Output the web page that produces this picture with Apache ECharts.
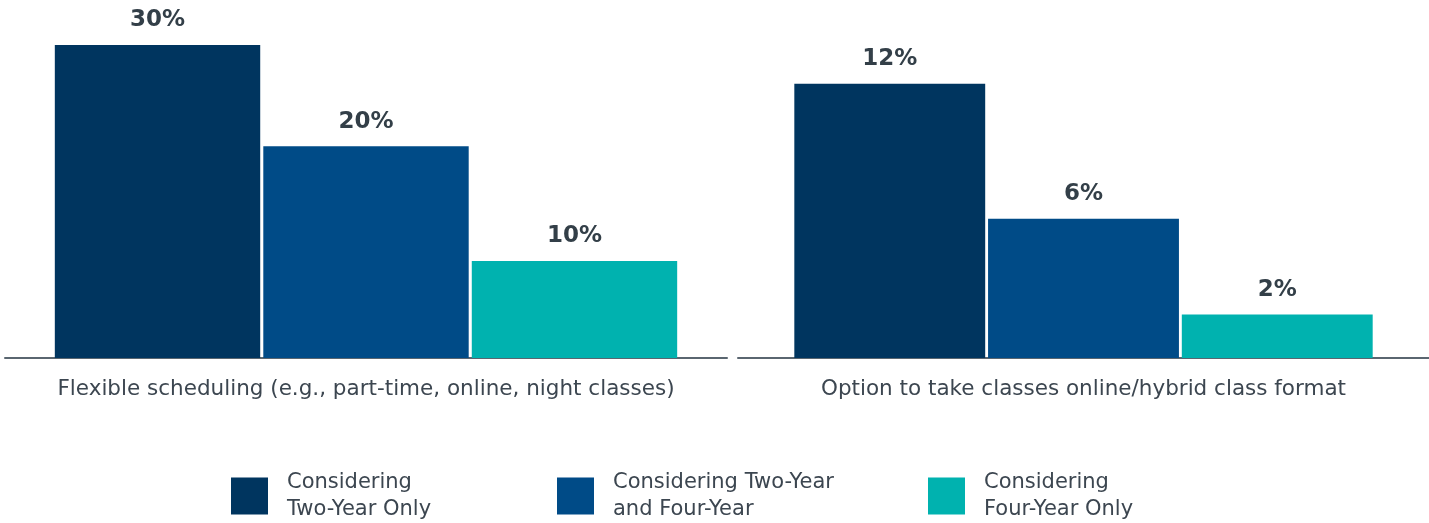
<!DOCTYPE html>
<html>
<head>
<meta charset="utf-8">
<script src="https://cdn.jsdelivr.net/npm/echarts@6/dist/echarts.min.js"></script>
<style>
  html, body { margin: 0; padding: 0; background: #fff; }
  #main { width: 1429px; height: 523px; }
</style>
</head>
<body>
<div id="main"></div>
<script>
// categories (one per panel)
const categories = [
  'Flexible scheduling (e.g., part-time, online, night classes)',
  'Option to take classes online/hybrid class format'
];
const groups = [
  'Considering Two-Year Only',
  'Considering Two-Year and Four-Year',
  'Considering Four-Year Only'
];
const legendLines = [
  'Considering\nTwo-Year Only',
  'Considering Two-Year\nand Four-Year',
  'Considering\nFour-Year Only'
];
// values, labels as printed
const flexibleValues = [30, 20.3, 9.3];
const flexibleLabels = ['30%', '20%', '10%'];
const onlineValues = [12, 6.1, 1.9];
const onlineLabels = ['12%', '6%', '2%'];

const colors = ['#00355F', '#004B87', '#00B2AF'];
const textColor = '#333F48';
const font = 'DejaVu Sans';

const myChart = echarts.init(document.getElementById('main'));

function makeSeries(values, labels, axisIdx) {
  return groups.map((g, i) => ({
    name: g,
    type: 'bar',
    xAxisIndex: axisIdx,
    yAxisIndex: axisIdx,
    barGap: '1.5%',
    barCategoryGap: axisIdx === 0 ? '13.8%' : '16.3%',
    itemStyle: { color: colors[i] },
    label: {
      show: true,
      position: 'top',
      distance: 13,
      formatter: labels[i],
      color: textColor,
      fontFamily: font,
      fontWeight: 'bold',
      fontSize: 23
    },
    data: [values[i]]
  }));
}

const legendLeft = [226, 552, 923];

const option = {
  backgroundColor: '#fff',
  animation: false,
  color: colors,
  grid: [
    { left: 5, width: 722, top: 45, height: 313 },
    { left: 738, right: 0, top: 45, height: 313 }
  ],
  xAxis: [0, 1].map(i => ({
    type: 'category',
    gridIndex: i,
    data: [categories[i]],
    axisTick: { show: false },
    axisLine: { lineStyle: { color: '#5A6670', width: 2 } },
    axisLabel: {
      color: '#3C4650',
      fontFamily: font,
      fontSize: 21.5,
      margin: 20
    }
  })),
  yAxis: [
    { type: 'value', gridIndex: 0, min: 0, max: 30, show: false, splitLine: { show: false } },
    { type: 'value', gridIndex: 1, min: 0, max: 13.7, show: false, splitLine: { show: false } }
  ],
  legend: groups.map((g, i) => ({
    data: [g],
    left: legendLeft[i],
    top: 461,
    icon: 'rect',
    itemWidth: 37,
    itemHeight: 37,
    selectedMode: false,
    formatter: () => legendLines[i],
    textStyle: {
      color: '#3C4650',
      fontFamily: font,
      fontSize: 21,
      lineHeight: 27,
      padding: [6, 0, 0, 14]
    }
  })),
  series: [
    ...makeSeries(flexibleValues, flexibleLabels, 0),
    ...makeSeries(onlineValues, onlineLabels, 1)
  ]
};

myChart.setOption(option);
</script>
</body>
</html>
